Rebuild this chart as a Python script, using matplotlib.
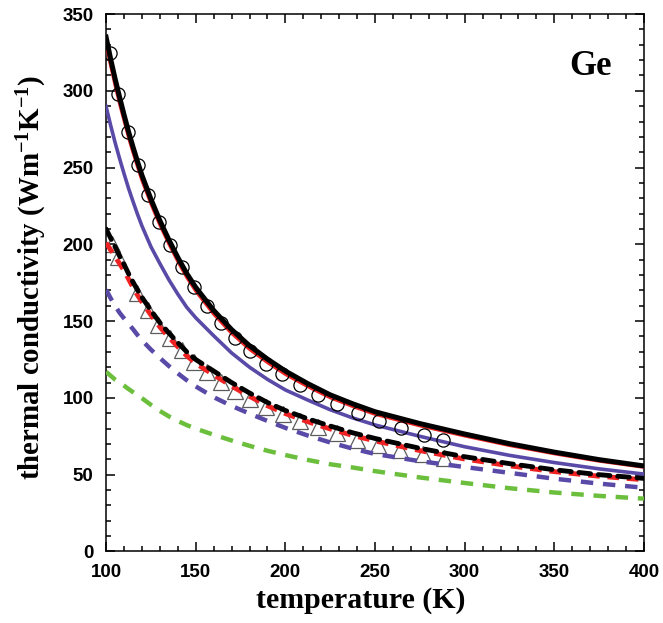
import matplotlib
matplotlib.use("Agg")
import matplotlib.pyplot as plt

plt.rcParams["mathtext.fontset"] = "custom"
plt.rcParams["mathtext.rm"] = "Liberation Serif:bold"
plt.rcParams["mathtext.bf"] = "Liberation Serif:bold"
plt.rcParams["mathtext.default"] = "rm"

# temperature grid used for the model curves (K)
temp = [100, 102.5, 105, 107.5, 110, 112.5, 115, 117.5, 120, 125, 130, 135,
        140, 145, 150, 160, 170, 180, 190, 200, 212.5, 225, 237.5, 250, 275,
        300, 325, 350, 375, 400]

# model curves (W m^-1 K^-1)
k_black = [335, 321, 308, 296, 284.5, 273.5, 263.5, 254, 245, 229.5, 215.5,
           203, 191.5, 181, 172, 157, 144.5, 134, 125.3, 117.5, 109.3, 102,
           96.2, 91, 83.3, 76.5, 70.2, 64.7, 59.8, 55.7]
k_red = [330, 316.5, 303.5, 291.5, 280.5, 269.5, 259.8, 250.5, 241.5, 226.3,
         212.5, 200.2, 188.8, 178.4, 169.5, 154.5, 142, 131.6, 123, 115.3,
         107.3, 100.1, 94.4, 89.3, 81.8, 75.2, 69, 63.6, 58.8, 54.8]
k_purple = [289.8, 277.7, 266.4, 256, 246.1, 236.6, 228, 219.7, 212, 198.5,
            187.5, 177, 167.6, 159, 152.2, 140.5, 129.3, 120, 112.1, 105.2,
            98.6, 92.3, 87, 82.4, 75, 68.2, 62.6, 57.9, 53.8, 50.4]
k_black_dash = [210, 204.2, 198.5, 192.5, 187, 181, 175.5, 170.3, 165.5, 157,
                149, 142.3, 136, 130, 125, 117.5, 110, 103.2, 97, 91.8, 86.4,
                81.7, 77.3, 73.6, 67.2, 61.7, 57.2, 53.2, 50, 47.6]
k_red_dash = [201, 196.5, 192, 187.5, 183, 177.5, 172, 167, 162.5, 154, 146.2,
              139.5, 133.3, 127.4, 122.5, 115, 107.7, 101, 94.9, 89.8, 84.5,
              79.8, 75.6, 72, 65.7, 60.2, 55.8, 52, 49, 46.7]
k_purple_dash = [170.5, 165, 160, 155.5, 151.8, 148.2, 144.8, 141, 137.5,
                 131.5, 126, 120.8, 116, 111.5, 107.5, 100.5, 94.8, 89.8, 85,
                 80.5, 75.5, 71, 67, 63.5, 58.8, 55, 51.2, 47.4, 44.2, 41.5]
k_green_dash = [117, 114.5, 112, 110, 108, 105.8, 103.8, 101.8, 99.8, 95.5,
                91.5, 88, 85, 82.3, 80, 76, 72.3, 68.8, 65.6, 62.8, 59.6, 56.8,
                54.7, 52.3, 48.2, 44.6, 41.2, 38.4, 36.2, 34.4]

# experimental points
circ_t = [102.2, 106.9, 112.1, 117.6, 123.6, 129.4, 135.7, 142.2, 149, 156.2,
          164, 172, 180.3, 189.2, 198.3, 208.2, 218.4, 229, 240.5, 252.4,
          264.3, 277.4, 288]
circ_k = [324.6, 297.7, 273.3, 251.6, 232, 214.8, 199.8, 185, 172, 160,
          148.8, 139, 130.6, 122, 115.4, 108.6, 101.7, 96, 90.2, 85.2, 80.6,
          75.6, 72.4]
tri_t = [103.2, 106.9, 117, 123.3, 129.2, 135.7, 142.2, 149.2, 156.1, 164,
         171.7, 180.3, 189.2, 198.5, 208.2, 218.4, 229, 239.9, 251.9, 264,
         277, 288.7]
tri_k = [200.3, 191.5, 168, 157, 147.3, 139.3, 131, 123.4, 116.7, 110.4,
         104.8, 99, 94, 89.8, 85.2, 81, 77, 72.8, 69.5, 66.4, 63.7, 61]

RED = "#ee2222"
PURPLE = "#5a4aa8"
GREEN = "#6cbf3c"

fig = plt.figure(figsize=(6.63, 6.23), dpi=100)
ax = fig.add_axes([0.16, 0.1148, 0.8113, 0.8627])

# triangles sit under the dashed curves
ax.plot(tri_t, tri_k, linestyle="none", marker="^", markersize=11,
        markerfacecolor="none", markeredgecolor="#5c5c5c",
        markeredgewidth=0.9, zorder=2)
ax.plot(temp, k_green_dash, color=GREEN, lw=3.2, dashes=(2.8, 2.2), zorder=3)
ax.plot(temp, k_purple_dash, color=PURPLE, lw=3.2, dashes=(2.8, 2.2), zorder=3)
ax.plot(temp, k_red_dash, color=RED, lw=3.5, dashes=(2.4, 1.6), zorder=3)
ax.plot(temp, k_black_dash, color="black", lw=3.5, dashes=(2.4, 1.6),
        dash_capstyle="round", zorder=4)

# solid curves
ax.plot(temp, k_purple, color=PURPLE, lw=2.6, zorder=5)
ax.plot(temp, k_red, color=RED, lw=2.2, zorder=5)
ax.plot(temp, k_black, color="black", lw=3.6, zorder=6)
ax.plot(circ_t, circ_k, linestyle="none", marker="o", markersize=9.5,
        markerfacecolor="none", markeredgecolor="black",
        markeredgewidth=0.9, zorder=7)

ax.set_xlim(100, 400)
ax.set_ylim(0, 350)
ax.set_xticks(range(100, 401, 50))
ax.set_xticks(range(100, 401, 10), minor=True)
ax.set_yticks(range(0, 351, 50))
ax.set_yticks(range(0, 351, 10), minor=True)
ax.tick_params(which="both", direction="in", top=True, right=True,
               width=1.1, labelsize=13.5, pad=9)
ax.tick_params(which="major", length=6.5)
ax.tick_params(which="minor", length=3.6)
for lab in ax.get_xticklabels() + ax.get_yticklabels():
    lab.set_fontfamily("Liberation Sans")
    lab.set_fontweight("bold")
for sp in ax.spines.values():
    sp.set_linewidth(1.1)

serif = dict(family="Liberation Serif", weight="bold", size=21.5)
ax.set_xlabel("temperature (K)", **serif)
ax.set_ylabel(r"thermal conductivity (Wm$^{-1}$K$^{-1}$)", size=20.8,
              family="Liberation Serif", weight="bold")
ax.xaxis.set_label_coords(0.474, -0.066)
ax.yaxis.set_label_coords(-0.106, 0.51)
ax.text(0.90, 0.886, "Ge", transform=ax.transAxes, ha="center",
        va="baseline", family="Liberation Serif", weight="bold", size=25)

fig.savefig("out.png", dpi=100)
